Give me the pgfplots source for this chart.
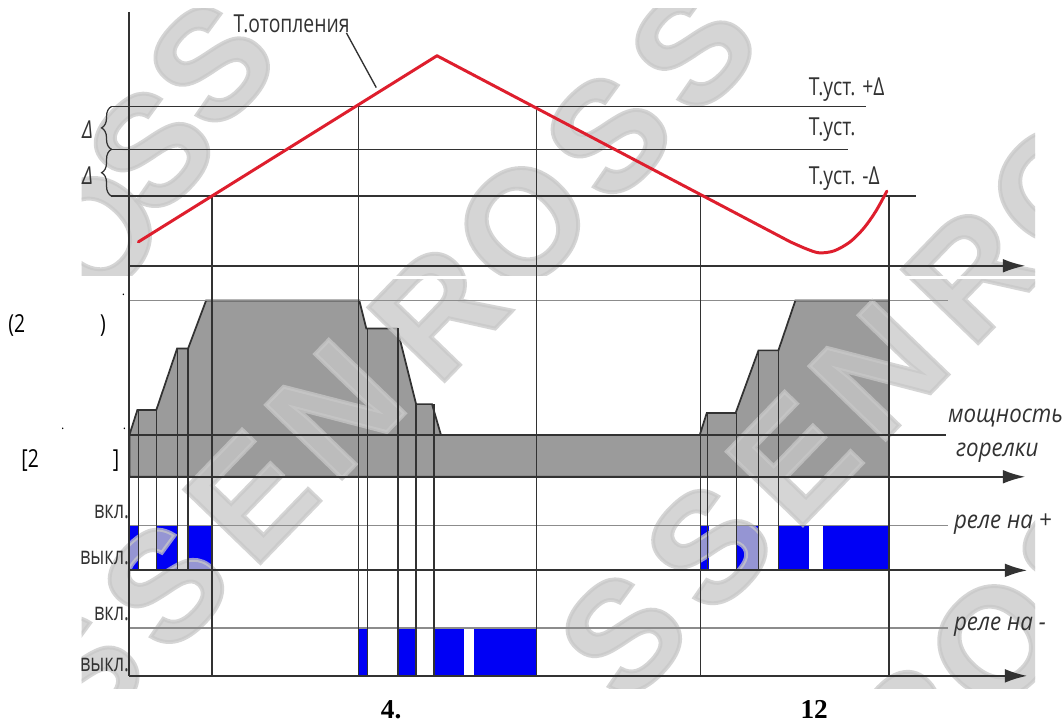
\documentclass[border=0pt]{standalone}
\usepackage{fontspec}
\setmainfont{Open Sans}
\newfontfamily\serifb{Liberation Serif}
\newfontfamily\wmfont[FakeBold=2.5]{Liberation Sans}
\usepackage{graphicx}
\usepackage{pgfplots}
\pgfplotsset{compat=1.18}
\usetikzlibrary{arrows.meta,decorations.pathreplacing}
\definecolor{redl}{RGB}{222,30,45}
\definecolor{fillg}{RGB}{155,155,155}
\definecolor{dk}{RGB}{50,50,50}
\definecolor{lg}{RGB}{140,140,140}
\definecolor{bl}{RGB}{0,0,245}
\definecolor{wmc}{RGB}{200,200,200}
\newcommand{\tl}[1]{\scalebox{0.78}[1]{\fontsize{10}{12}\selectfont #1}}
\newcommand{\tn}[1]{\scalebox{0.73}[1]{\fontsize{10}{12}\selectfont #1}}
\newcommand{\til}[1]{\scalebox{0.9}[1]{\fontsize{10}{12}\selectfont\itshape #1}}
\pgfplotsset{
 ln/.style={draw=dk, line width=0.55pt},
 lvl/.style={draw=lg, line width=0.5pt},
 ax/.style={draw=dk, line width=0.8pt},
 axa/.style={draw=dk, line width=0.8pt, -{Latex[length=9pt,width=5.5pt]}},
}
\newcommand{\seg}[5][ln]{\addplot[#1] coordinates {(#2,#3) (#4,#5)};}
\newcommand{\wl}[3]{\node[rotate=46, text=wmc, text opacity=0.75, inner sep=0pt] at (axis cs:#1,#2) {\fontsize{62}{62}\selectfont\wmfont\bfseries #3};}
\begin{document}
\begin{tikzpicture}
\begin{axis}[
 scale only axis, width=15cm, height=10.2864cm,
 xmin=0,xmax=1063,ymin=0,ymax=729, y dir=reverse,
 hide axis, clip=false,
 every axis plot/.append style={forget plot},
]
% background
\addplot[fill=white, draw=none] coordinates {(0,0) (1063,0) (1063,729) (0,729)} -- cycle;

% burner power area
\addplot[fill=fillg, draw=dk, line width=0.7pt] coordinates {
 (130,479) (130,437) (138,412) (157,412) (178,350) (189,350) (207,302) (361,302)
 (368,330) (399,330) (418,406) (434,406) (443,437) (703,437) (710,415) (739,415)
 (762,352) (782,352) (799,302) (893,302) (893,479)} -- cycle;

% relay + bars (528..573)
\addplot[fill=bl, draw=none] coordinates {(130,573) (130,528) (139,528) (139,573)} -- cycle;
\addplot[fill=bl, draw=none] coordinates {(157,573) (157,528) (178,528) (178,573)} -- cycle;
\addplot[fill=bl, draw=none] coordinates {(189,573) (189,528) (212,528) (212,573)} -- cycle;
\addplot[fill=bl, draw=none] coordinates {(703,573) (703,528) (712,528) (712,573)} -- cycle;
\addplot[fill=bl, draw=none] coordinates {(740,573) (740,528) (761,528) (761,573)} -- cycle;
\addplot[fill=bl, draw=none] coordinates {(782,573) (782,528) (813,528) (813,573)} -- cycle;
\addplot[fill=bl, draw=none] coordinates {(827,573) (827,528) (893,528) (893,573)} -- cycle;
% relay - bars (631..679)
\addplot[fill=bl, draw=none] coordinates {(361,679) (361,631) (370,631) (370,679)} -- cycle;
\addplot[fill=bl, draw=none] coordinates {(400,679) (400,631) (418,631) (418,679)} -- cycle;
\addplot[fill=bl, draw=none] coordinates {(436,679) (436,631) (466,631) (466,679)} -- cycle;
\addplot[fill=bl, draw=none] coordinates {(476,679) (476,631) (539,631) (539,679)} -- cycle;

% watermark (upper band)
\begin{scope}
\clip (axis cs:82,9) rectangle (axis cs:1040,277);
\wl{95}{235}{O}\wl{152}{150}{S}\wl{212}{64}{S}
\wl{440}{313}{R}\wl{525}{225}{O}\wl{611}{136}{S}\wl{696}{48}{S}
\wl{883}{372}{N}\wl{976}{275}{R}\wl{1061}{187}{O}
\end{scope}
% watermark (lower band)
\begin{scope}
\clip (axis cs:82,281) rectangle (axis cs:1040,692);
\wl{440}{313}{R}
\wl{337}{411}{N}\wl{252}{499}{E}\wl{166}{588}{S}\wl{81}{676}{S}
\wl{976}{275}{R}
\wl{883}{372}{N}\wl{797}{461}{E}\wl{712}{549}{S}\wl{626}{638}{S}
\wl{1000}{645}{O}\wl{1085}{557}{S}\wl{915}{733}{R}
\end{scope}

% level lines
\seg{112}{107}{870}{107}
\seg{112}{150}{852}{150}
\seg{112}{197}{920}{197}
\seg[lvl]{130}{302}{952}{302}
\seg{130}{437}{950}{437}
\seg[lvl]{130}{528}{952}{528}
\seg[lvl]{130}{631}{952}{631}

% through vertical lines
\seg{213}{197}{213}{679}
\seg{360}{107}{360}{679}
\seg{539}{107}{539}{679}
\seg{704}{197}{704}{679}
\seg{893}{197}{893}{679}
% relay + step lines
\seg{139}{412}{139}{573}
\seg{157}{412}{157}{573}
\seg{178}{350}{178}{573}
\seg{189}{350}{189}{573}
\seg{711}{415}{711}{573}
\seg{740}{415}{740}{573}
\seg{762}{352}{762}{573}
\seg{782}{352}{782}{573}
% relay - step lines
\seg{369}{330}{369}{679}
\seg{400}{330}{400}{679}
\seg{418}{406}{418}{679}
\seg{436}{406}{436}{679}

% axes
\seg[ax]{130}{12}{130}{679}
\addplot[axa] coordinates {(130,267) (1030,267)};
\addplot[axa] coordinates {(130,479) (1030,479)};
\addplot[axa] coordinates {(130,573) (1032,573)};
\addplot[axa] coordinates {(130,679) (1032,679)};

% heating temperature
\addplot[draw=redl, line width=1.2pt, line cap=round, line join=round] coordinates {
 (139,243) (439,56) (794,243)};
\addplot[draw=redl, line width=1.2pt, line cap=round, smooth, tension=0.5] coordinates {
 (794,243) (810,250) (823,254) (838,252) (854,243) (868,229) (880,212) (891,192)};

% leader
\seg{348}{33}{378}{88}

% braces
\draw[dk, line width=0.5pt, decorate, decoration={brace, amplitude=4pt}] (axis cs:112,150) -- (axis cs:112,107);
\draw[dk, line width=0.5pt, decorate, decoration={brace, amplitude=4pt}] (axis cs:112,197) -- (axis cs:112,150);

% labels
\node[text=dk] at (axis cs:293,24) {\tl{Т.отопления}};
\node[text=dk, anchor=west, inner sep=0pt] at (axis cs:812,90) {\tl{Т.уст. +Δ}};
\node[text=dk, anchor=west, inner sep=0pt] at (axis cs:812,130) {\tl{Т.уст.}};
\node[text=dk, anchor=west, inner sep=0pt] at (axis cs:812,179) {\tl{Т.уст. -Δ}};
\node[text=dk] at (axis cs:88,130) {\tl{\itshape Δ}};
\node[text=dk] at (axis cs:88,176) {\tl{\itshape Δ}};

\node[text=dk, anchor=west, inner sep=0pt] at (axis cs:952,420) {\til{мощность}};
\node[text=dk, anchor=west, inner sep=0pt] at (axis cs:960,455) {\til{горелки}};
\node[text=dk, anchor=west, inner sep=0pt] at (axis cs:958,527) {\til{реле на +}};
\node[text=dk, anchor=west, inner sep=0pt] at (axis cs:958,630) {\til{реле на -}};

\node[text=dk, anchor=east, inner sep=0pt] at (axis cs:130,514) {\tn{вкл.}};
\node[text=dk, anchor=east, inner sep=0pt] at (axis cs:130,561) {\tn{выкл.}};
\node[text=dk, anchor=east, inner sep=0pt] at (axis cs:130,617) {\tn{вкл.}};
\node[text=dk, anchor=east, inner sep=0pt] at (axis cs:130,668) {\tn{выкл.}};

\node[anchor=west, inner sep=0pt] at (axis cs:8,327) {\tl{(2}};
\node[anchor=west, inner sep=0pt] at (axis cs:100,327) {\tl{)}};
\node[anchor=west, inner sep=0pt] at (axis cs:21,463) {\tl{[2}};
\node[anchor=west, inner sep=0pt] at (axis cs:113,463) {\tl{]}};
\node[inner sep=0pt] at (axis cs:124,296) {\tiny .};
\node[inner sep=0pt] at (axis cs:63,431) {\tiny .};
\node[inner sep=0pt] at (axis cs:125,431) {\tiny .};

\node at (axis cs:393,713) {\fontsize{11}{12}\selectfont\serifb\bfseries 4.};
\node at (axis cs:818,713) {\fontsize{11}{12}\selectfont\serifb\bfseries 12};
\end{axis}
\end{tikzpicture}
\end{document}
